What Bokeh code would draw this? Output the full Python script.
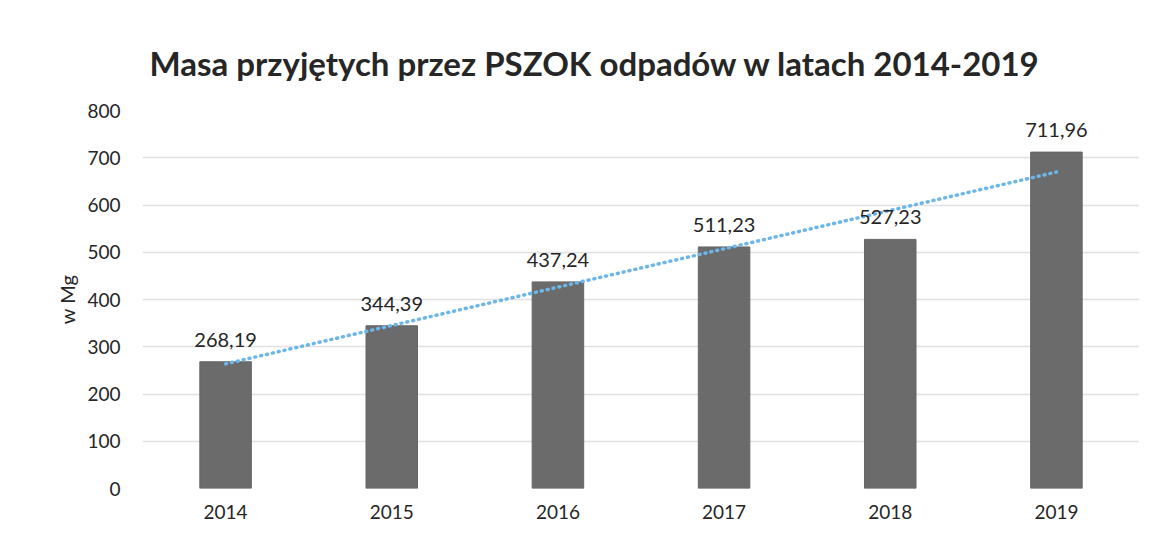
import numpy as np
from bokeh.plotting import figure
from bokeh.models import ColumnDataSource, FactorRange, Range1d, SingleIntervalTicker
from bokeh.embed import file_html
from bokeh.resources import INLINE

years = ["2014", "2015", "2016", "2017", "2018", "2019"]
values = [268.19, 344.39, 437.24, 511.23, 527.23, 711.96]
labels = ["268,19", "344,39", "437,24", "511,23", "527,23", "711,96"]
title_text = "Masa przyjętych przez PSZOK odpadów w latach 2014-2019"
y_label = "w Mg"

# linear trendline (as Excel's)
xi = np.arange(len(values))
slope, intercept = np.polyfit(xi, values, 1)
trend = [intercept + slope * k for k in xi]

src = ColumnDataSource(dict(x=years, top=values, lab=labels, trend=trend))

FONT = "Lato"
p = figure(width=1139, height=521, x_range=FactorRange(*years), y_range=Range1d(0, 800),
           output_backend="svg", toolbar_location=None, tools="",
           min_border_left=142, min_border_right=0, min_border_top=110, min_border_bottom=33)
p.outline_line_color = None
p.background_fill_color = "white"
p.border_fill_color = "white"

p.title.text = title_text
p.title.text_font = FONT
p.title.text_font_style = "bold"
p.title.text_font_size = "33px"
p.title.text_color = "#262626"
p.title.align = "left"
p.title.offset = 7
p.title.standoff = 56

p.vbar(x="x", top="top", width=0.31, source=src, fill_color="#6b6b6b", line_color="#666666")
p.line(x="x", y="trend", source=src, line_color="#6cb6ea", line_width=3.5, line_dash="1 5",
       line_cap="round")
p.text(x="x", y="top", text="lab", source=src, text_align="center", text_baseline="bottom",
       y_offset=-15, text_font_size="20px", text_color="#262626",
       text_font={"value": FONT})

p.yaxis.ticker = SingleIntervalTicker(interval=100)
p.yaxis.axis_label = y_label
p.yaxis.axis_label_text_font = FONT
p.yaxis.axis_label_text_font_size = "20px"
p.yaxis.axis_label_text_font_style = "normal"
p.yaxis.axis_label_text_color = "#262626"
p.yaxis.axis_label_standoff = 5
for ax in (p.xaxis, p.yaxis):
    ax.axis_line_color = None
    ax.major_tick_line_color = None
    ax.minor_tick_line_color = None
    ax.major_label_text_font = FONT
    ax.major_label_text_font_size = "19px"
    ax.major_label_text_color = "#262626"
p.yaxis.major_label_standoff = 16
p.xaxis.major_label_standoff = 10

p.xgrid.grid_line_color = None
p.ygrid.grid_line_color = "#e0e0e0"
p.ygrid.grid_line_width = 1.5
p.x_range.range_padding = 0
p.x_range.factor_padding = 0

open("out.html", "w").write(file_html(p, INLINE))
